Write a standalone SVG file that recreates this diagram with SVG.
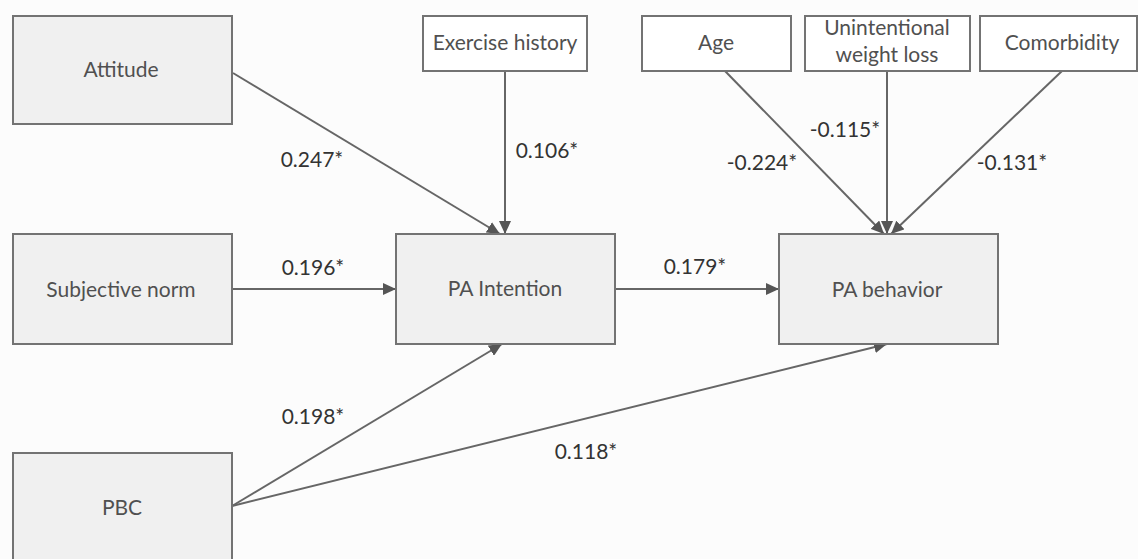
<svg xmlns="http://www.w3.org/2000/svg" width="1138" height="559" viewBox="0 0 1138 559">
<style>
.big{fill:#f0f0f0;stroke:#737373;stroke-width:2}
.small{fill:#ffffff;stroke:#737373;stroke-width:2}
.nt{font-family:Lato,"Liberation Sans",sans-serif;font-size:21px;fill:#505050;text-anchor:middle}
.lb{font-family:Lato,"Liberation Sans",sans-serif;font-size:21px;fill:#333333;text-anchor:middle}
.cn{stroke:#666666;stroke-width:2;fill:none;marker-end:url(#ah)}
</style>
<defs>
<marker id="ah" markerUnits="userSpaceOnUse" markerWidth="14" markerHeight="12" refX="13" refY="6" orient="auto">
<path d="M0,0 L13,6 L0,12 Z" fill="#555555"/>
</marker>
</defs>
<rect width="1138" height="559" fill="#fcfcfc"/>
<g id="connectors">
<line class="cn" x1="233" y1="73" x2="500" y2="234"/>
<line class="cn" x1="505" y1="71" x2="505" y2="234"/>
<line class="cn" x1="232" y1="289" x2="396" y2="289"/>
<line class="cn" x1="615" y1="289" x2="779" y2="289"/>
<line class="cn" x1="232" y1="506" x2="502" y2="344"/>
<line class="cn" x1="232" y1="506" x2="887" y2="344"/>
<line class="cn" x1="725" y1="71" x2="884" y2="234"/>
<line class="cn" x1="887" y1="71" x2="887" y2="234"/>
<line class="cn" x1="1062" y1="71" x2="891" y2="234"/>
</g>
<g id="labels">
<text class="lb" x="312" y="167">0.247*</text>
<text class="lb" x="547" y="158">0.106*</text>
<text class="lb" x="313" y="275">0.196*</text>
<text class="lb" x="695" y="274">0.179*</text>
<text class="lb" x="313" y="424">0.198*</text>
<text class="lb" x="586" y="459">0.118*</text>
<text class="lb" x="762" y="170">-0.224*</text>
<text class="lb" x="845" y="137">-0.115*</text>
<text class="lb" x="1012" y="170">-0.131*</text>
</g>
<g id="attitude"><rect class="big" x="13" y="16" width="219" height="108"/><text class="nt" x="121" y="77">Attitude</text></g>
<g id="subjective-norm"><rect class="big" x="13" y="234" width="219" height="110"/><text class="nt" x="121" y="297">Subjective norm</text></g>
<g id="pbc"><rect class="big" x="13" y="453" width="219" height="120"/><text class="nt" x="122" y="515">PBC</text></g>
<g id="pa-intention"><rect class="big" x="396" y="234" width="219" height="110"/><text class="nt" x="505" y="296">PA Intention</text></g>
<g id="pa-behavior"><rect class="big" x="779" y="234" width="219" height="110"/><text class="nt" x="887" y="297">PA behavior</text></g>
<g id="exercise-history"><rect class="small" x="423" y="16" width="164" height="55"/><text class="nt" x="505" y="50">Exercise history</text></g>
<g id="age"><rect class="small" x="642" y="16" width="149" height="55"/><text class="nt" x="716" y="50">Age</text></g>
<g id="unintentional-weight-loss"><rect class="small" x="805" y="16" width="165" height="55"/><text class="nt" x="887" y="35">Unintentional</text><text class="nt" x="887" y="62">weight loss</text></g>
<g id="comorbidity"><rect class="small" x="980" y="16" width="157" height="55"/><text class="nt" x="1062" y="50">Comorbidity</text></g>
</svg>
